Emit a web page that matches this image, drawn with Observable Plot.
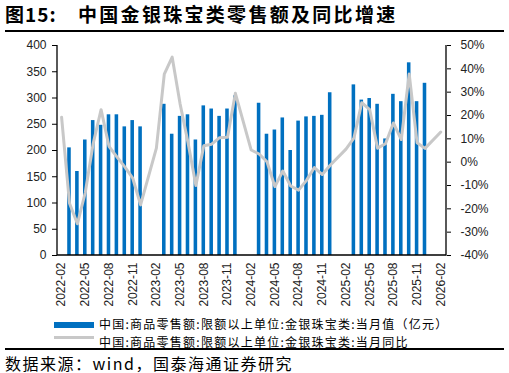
<!DOCTYPE html>
<html><head><meta charset="utf-8">
<script src="https://cdn.jsdelivr.net/npm/d3@7"></script>
<script src="https://cdn.jsdelivr.net/npm/@observablehq/plot@0.6"></script>
<style>
body{margin:0;width:509px;height:373px;position:relative;overflow:hidden;background:#fff;font-family:"Noto Sans CJK SC",sans-serif;color:#000}
.t{position:absolute;top:3px;font-size:19px;font-weight:bold;line-height:22px;white-space:nowrap}
.rule{position:absolute;left:5px;width:499px;height:1.5px;background:#000}
#chart{position:absolute;left:0;top:31px}
.lt{position:absolute;left:99px;font-size:12px;line-height:18px;white-space:nowrap;letter-spacing:1.25px;color:#000}
#src{position:absolute;left:5px;top:352.5px;font-size:16px;line-height:20px;letter-spacing:1.5px;white-space:nowrap}
</style></head>
<body>
<div class="t" style="left:5px;letter-spacing:1px">图15:</div>
<div class="t" style="left:78px;letter-spacing:2.3px">中国金银珠宝类零售额及同比增速</div>
<div class="rule" style="top:30px"></div>
<div id="chart"></div>
<div style="position:absolute;left:54px;top:322px;width:40px;height:6px;background:#0070C0"></div>
<div class="lt" style="top:315px">中国:商品零售额:限额以上单位:金银珠宝类:当月值（亿元）</div>
<div style="position:absolute;left:54px;top:336px;width:40px;height:3px;background:#C8C8C8"></div>
<div class="lt" style="top:332.5px">中国:商品零售额:限额以上单位:金银珠宝类:当月同比</div>
<div class="rule" style="top:348px"></div>
<div id="src">数据来源：wind，国泰海通证券研究</div>
<script>
const months = [
 "2022-02","2022-03","2022-04","2022-05","2022-06","2022-07","2022-08","2022-09","2022-10","2022-11","2022-12",
 "2023-01","2023-02","2023-03","2023-04","2023-05","2023-06","2023-07","2023-08","2023-09","2023-10","2023-11","2023-12",
 "2024-01","2024-02","2024-03","2024-04","2024-05","2024-06","2024-07","2024-08","2024-09","2024-10","2024-11","2024-12",
 "2025-01","2025-02","2025-03","2025-04","2025-05","2025-06","2025-07","2025-08","2025-09","2025-10","2025-11","2025-12",
 "2026-01","2026-02"];
// 当月值（亿元）
const sales = [
 null,205,160,220,257,248,268,268,245,257,245,
 null,null,288,231,265,268,220,285,279,265,279,304,
 null,null,290,231,239,262,200,256,264,265,267,310,
 null,null,325,296,299,288,222,307,293,367,293,328,
 null,null];
// 当月同比（%）
const yoy = [
 19.3,-17.6,-26.4,-13,8,22.5,6.8,2.3,-2,-6.8,-18.3,
 null,6,37.7,45,25,8.5,-10,7,7.7,10.5,10.7,29.5,
 null,5.2,3.5,0.2,-10.5,-3.8,-10.2,-12,-7.8,-2.3,-5.3,-1.3,
 null,5.6,10.3,25.5,22.5,6,7.9,16.8,9.7,37.8,8.3,5.9,
 null,12.9];
const leftTicks = [0,50,100,150,200,250,300,350,400];
const rightTicks = [-40,-30,-20,-10,0,10,20,30,40,50];
const xTickLabels = months.filter((m,i) => i % 3 === 0);

const toLeft = p => (p + 40) * 400 / 90;
const toRight = v => Math.round(v * 90 / 400 - 40);

const barData = months.map((m,i) => ({m, v: sales[i]})).filter(d => d.v != null);
const lineData = months.map((m,i) => ({m, p: yoy[i]})).filter(d => d.p != null);

function frameLines(index, scales, values, dims) {
  const g = d3.create("svg:g").attr("stroke", "#000").attr("stroke-width", 1.3).attr("fill","none");
  const l = dims.marginLeft, r = dims.width - dims.marginRight;
  const t = dims.marginTop, b = dims.height - dims.marginBottom;
  g.append("path").attr("d", `M${l},${t}V${b}H${r}V${t}`);
  return g.node();
}

const chart = Plot.plot({
  width: 509, height: 287,
  marginLeft: 57, marginRight: 63, marginTop: 14, marginBottom: 63,
  style: {fontFamily: "Liberation Sans, Arial, sans-serif", fontSize: "12px", color: "#222", background: "transparent"},
  x: {type: "band", domain: months, paddingInner: 0.55, paddingOuter: 0.395, align: 0.37},
  y: {domain: [0, 400]},
  marks: [
    Plot.barY(barData, {x: "m", y: "v", fill: "#0070C0"}),
    Plot.line(lineData, {x: "m", y: d => toLeft(d.p), stroke: "#C8C8C8", strokeWidth: 3, strokeLinejoin: "round"}),
    frameLines,
    Plot.axisY({anchor: "left", ticks: leftTicks, tickSize: 5, tickPadding: 6, label: null, stroke: "#000"}),
    Plot.axisY({anchor: "right", ticks: rightTicks.map(toLeft), tickFormat: v => toRight(v) + "%", tickSize: 4, tickPadding: 10, label: null, stroke: "#000"}),
    Plot.axisX({ticks: xTickLabels, tickRotate: -90, tickSize: 0, tickPadding: 7, label: null})
  ]
});
document.getElementById("chart").appendChild(chart);
</script>
</body></html>
